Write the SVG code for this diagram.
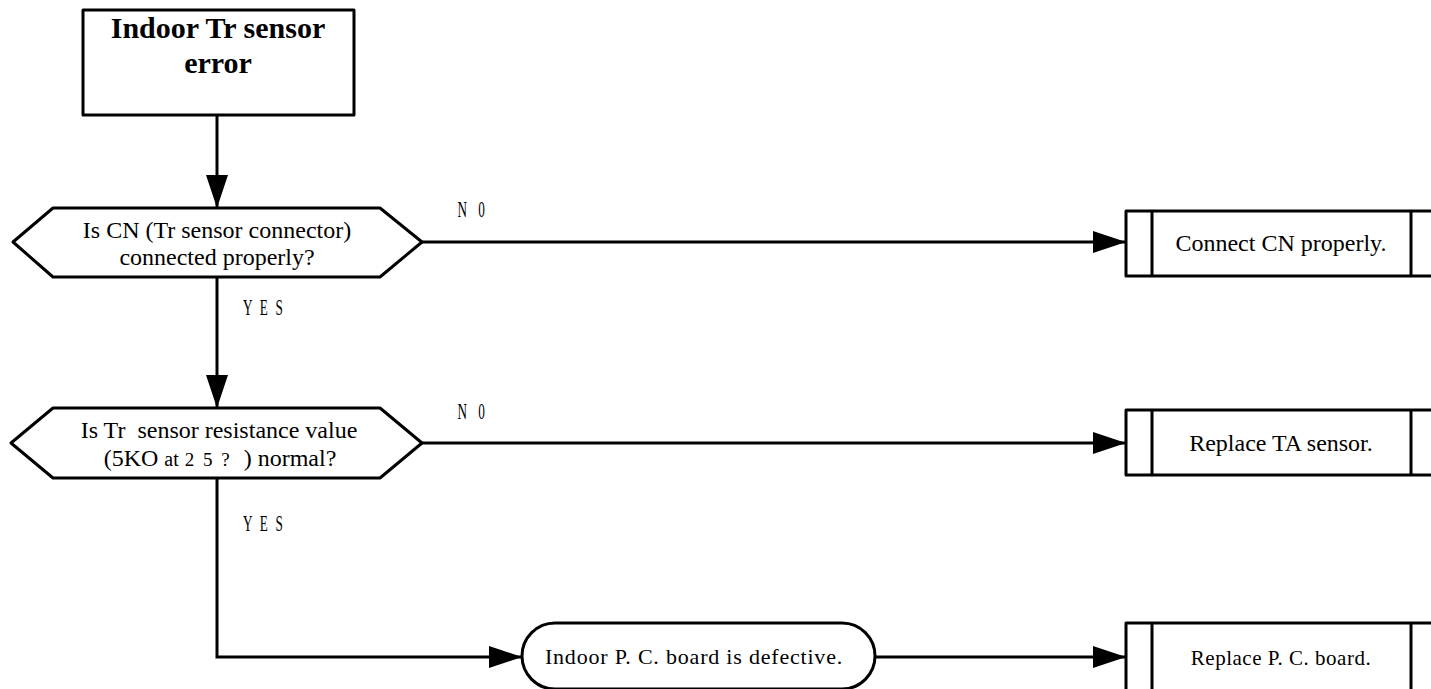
<svg xmlns="http://www.w3.org/2000/svg" width="1431" height="689" viewBox="0 0 1431 689">
<style>
.s{fill:#fff;stroke:#000;stroke-width:3;stroke-linejoin:round}
.c{fill:none;stroke:#000;stroke-width:3}
.t{font-family:"Liberation Serif","Times New Roman",serif;font-size:24px;fill:#000;text-anchor:middle;white-space:pre}
.b{font-family:"Liberation Serif","Times New Roman",serif;font-size:30px;font-weight:bold;fill:#000;text-anchor:middle}
.l{font-family:"Liberation Serif","Times New Roman",serif;font-size:24px;fill:#000}
.ln{letter-spacing:7px}
.ly{letter-spacing:4px}
</style>
<defs>
<marker id="a" markerUnits="userSpaceOnUse" markerWidth="34" markerHeight="22" refX="33" refY="11" orient="auto">
<path d="M0,0 L33,11 L0,22 Z" fill="#000"/>
</marker>
</defs>
<g id="connectors">
<path class="c" d="M217,115 V208" marker-end="url(#a)"/>
<path class="c" d="M422,242 H1126" marker-end="url(#a)"/>
<path class="c" d="M217,277 V408" marker-end="url(#a)"/>
<path class="c" d="M422,443 H1126" marker-end="url(#a)"/>
<path class="c" d="M217,478 V657 H522" marker-end="url(#a)"/>
<path class="c" d="M875,657 H1126" marker-end="url(#a)"/>
<g transform="scale(0.55,1)">
<text class="l ln" x="832" y="217">N 0</text>
<text class="l ly" x="442" y="315">Y E S</text>
<text class="l ln" x="832" y="419">N 0</text>
<text class="l ly" x="442" y="531">Y E S</text>
</g>
</g>
<g id="start">
<rect class="s" x="83" y="10" width="271" height="105"/>
<text class="b" x="218" y="38">Indoor Tr sensor</text>
<text class="b" x="218" y="73">error</text>
</g>
<g id="q1">
<path class="s" d="M13,242 L53,208 L380,208 L422,242 L380,277 L53,277 Z"/>
<text class="t" x="217" y="238">Is CN (Tr sensor connector)</text>
<text class="t" x="217" y="265">connected properly?</text>
</g>
<g id="q2">
<path class="s" d="M11,443 L53,408 L380,408 L422,443 L380,478 L53,478 Z"/>
<text class="t" x="219" y="438">Is Tr  sensor resistance value</text>
<text class="t" x="220" y="466">(5KO <tspan style="font-size:20px">at</tspan> <tspan style="font-size:19px;letter-spacing:2px">2 5 ?</tspan>  ) normal?</text>
</g>
<g id="fix1">
<rect class="s" x="1126" y="211" width="310" height="65"/>
<path class="c" d="M1152,211 V276 M1411,211 V276"/>
<text class="t" x="1281" y="251">Connect CN properly.</text>
</g>
<g id="fix2">
<rect class="s" x="1126" y="410" width="310" height="65"/>
<path class="c" d="M1152,410 V475 M1411,410 V475"/>
<text class="t" x="1281" y="451">Replace TA sensor.</text>
</g>
<g id="defect">
<rect class="s" x="522" y="623" width="353" height="66" rx="33" ry="33"/>
<text class="t" x="694" y="664" style="font-size:22px;letter-spacing:0.8px">Indoor P. C. board is defective.</text>
</g>
<g id="fix3">
<rect class="s" x="1126" y="623" width="310" height="70"/>
<path class="c" d="M1152,623 V693 M1411,623 V693"/>
<text class="t" x="1281" y="665" style="font-size:21px;letter-spacing:0.5px">Replace P. C. board.</text>
</g>
</svg>
